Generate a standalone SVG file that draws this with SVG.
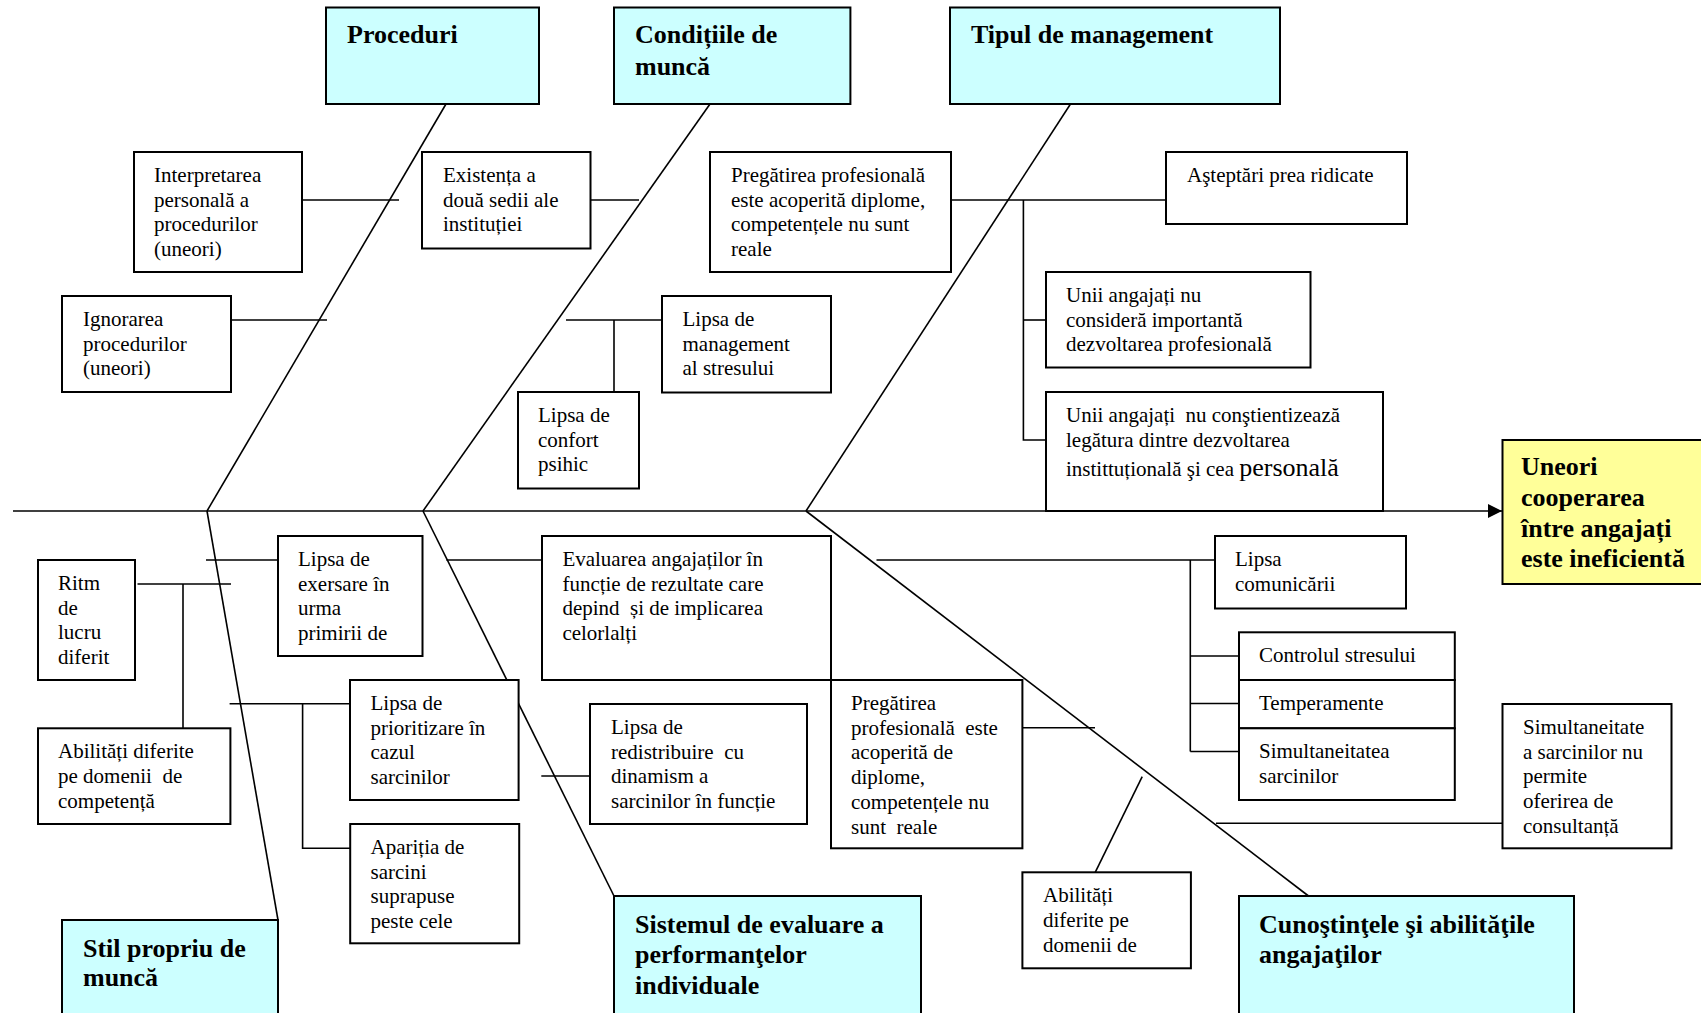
<svg xmlns="http://www.w3.org/2000/svg" width="1701" height="1013" viewBox="0 0 1701 1013">
<style>
  .bx { fill: #ffffff; stroke: #000; stroke-width: 2; }
  .cat { fill: #ccffff; stroke: #000; stroke-width: 2; }
  .eff { fill: #ffff99; stroke: #000; stroke-width: 2; }
  .ln { stroke: #000; stroke-width: 1.6; fill: none; }
  .t { font-family: 'Liberation Serif', 'Times New Roman', serif; font-size: 21px; fill: #000; }
  .h { font-family: 'Liberation Serif', 'Times New Roman', serif; font-size: 26px; font-weight: bold; fill: #000; }
</style>
<defs>
  <marker id="arr" viewBox="0 0 10 10" refX="10" refY="5" markerWidth="17" markerHeight="14" markerUnits="userSpaceOnUse" orient="auto">
    <path d="M0,0 L10,5 L0,10 Z" fill="#000"/>
  </marker>
</defs>
<rect width="1701" height="1013" fill="#ffffff"/>

<g id="connectors">
  <!-- spine -->
  <line class="ln" x1="13" y1="511" x2="1502" y2="511" stroke-width="2" marker-end="url(#arr)"/>
  <!-- top bones -->
  <line class="ln" x1="446" y1="104" x2="207" y2="511"/>
  <line class="ln" x1="710" y1="104" x2="423" y2="511"/>
  <line class="ln" x1="1070.5" y1="104" x2="806" y2="511"/>
  <!-- bottom bones -->
  <line class="ln" x1="207" y1="511" x2="278" y2="920"/>
  <line class="ln" x1="423" y1="511" x2="614" y2="896"/>
  <line class="ln" x1="806" y1="511" x2="1308.5" y2="896"/>
  <!-- Proceduri branches -->
  <line class="ln" x1="302" y1="200" x2="399" y2="200"/>
  <line class="ln" x1="231" y1="320" x2="327" y2="320"/>
  <!-- Conditii branches -->
  <line class="ln" x1="590.5" y1="200" x2="639" y2="200"/>
  <polyline class="ln" points="566,320 662,320"/>
  <line class="ln" x1="614" y1="320" x2="614" y2="392"/>
  <!-- Tipul branches -->
  <line class="ln" x1="951" y1="200" x2="1166" y2="200"/>
  <polyline class="ln" points="1023.4,200 1023.4,440 1046,440"/>
  <line class="ln" x1="1023.4" y1="320" x2="1046" y2="320"/>
  <!-- Stil branches -->
  <line class="ln" x1="137.5" y1="584" x2="231" y2="584"/>
  <line class="ln" x1="183" y1="584" x2="183" y2="728.3"/>
  <line class="ln" x1="206" y1="560" x2="278" y2="560"/>
  <line class="ln" x1="229.6" y1="703.7" x2="350" y2="703.7"/>
  <polyline class="ln" points="302.6,703.7 302.6,848.3 350.2,848.3"/>
  <!-- Sistemul branches -->
  <line class="ln" x1="446.4" y1="560" x2="542" y2="560"/>
  <line class="ln" x1="541.3" y1="776" x2="590" y2="776"/>
  <!-- Cunostinte branches -->
  <line class="ln" x1="1022.4" y1="727.7" x2="1095" y2="727.7"/>
  <line class="ln" x1="876.5" y1="560" x2="1215" y2="560"/>
  <line class="ln" x1="1190.3" y1="560" x2="1190.3" y2="751.5"/>
  <line class="ln" x1="1190.3" y1="656" x2="1239" y2="656"/>
  <line class="ln" x1="1190.3" y1="703.5" x2="1239" y2="703.5"/>
  <line class="ln" x1="1190.3" y1="751.5" x2="1239" y2="751.5"/>
  <line class="ln" x1="1216" y1="823.3" x2="1502.5" y2="823.3"/>
  <line class="ln" x1="1095.2" y1="872.3" x2="1142.2" y2="776.7"/>
</g>

<g id="cat-proceduri">
  <rect class="cat" x="326" y="7.5" width="213" height="96.5"/>
  <text class="h" x="347" y="43">Proceduri</text>
</g>
<g id="cat-conditii">
  <rect class="cat" x="614" y="7.5" width="236.4" height="96.5"/>
  <text class="h" x="635" y="43">Condițiile de</text>
  <text class="h" x="635" y="74.5">muncă</text>
</g>
<g id="cat-tipul">
  <rect class="cat" x="950" y="7.5" width="330" height="96.5"/>
  <text class="h" x="971" y="43">Tipul de management</text>
</g>
<g id="cat-stil">
  <rect class="cat" x="62" y="920" width="216" height="120"/>
  <text class="h" x="83" y="956.5">Stil propriu de</text>
  <text class="h" x="83" y="986">muncă</text>
</g>
<g id="cat-sistemul">
  <rect class="cat" x="614" y="896" width="307" height="140"/>
  <text class="h" x="635" y="932.5">Sistemul de evaluare a</text>
  <text class="h" x="635" y="963">performanţelor</text>
  <text class="h" x="635" y="993.5">individuale</text>
</g>
<g id="cat-cunostinte">
  <rect class="cat" x="1239" y="896" width="335" height="140"/>
  <text class="h" x="1259" y="932.5">Cunoştinţele şi abilităţile</text>
  <text class="h" x="1259" y="963">angajaţilor</text>
</g>
<g id="effect">
  <rect class="eff" x="1502.5" y="440" width="220" height="144"/>
  <text class="h" x="1521" y="475">Uneori</text>
  <text class="h" x="1521" y="506">cooperarea</text>
  <text class="h" x="1521" y="537">între angajați</text>
  <text class="h" x="1521" y="567">este ineficientă</text>
</g>

<g id="n-interpretarea">
  <rect class="bx" x="134" y="152" width="168" height="120"/>
  <text class="t" x="154" y="182">Interpretarea</text>
  <text class="t" x="154" y="206.7">personală a</text>
  <text class="t" x="154" y="231.4">procedurilor</text>
  <text class="t" x="154" y="256.1">(uneori)</text>
</g>
<g id="n-ignorarea">
  <rect class="bx" x="62" y="296" width="169" height="96"/>
  <text class="t" x="83" y="326">Ignorarea</text>
  <text class="t" x="83" y="350.7">procedurilor</text>
  <text class="t" x="83" y="375.4">(uneori)</text>
</g>
<g id="n-existenta">
  <rect class="bx" x="422" y="152" width="168.5" height="96.5"/>
  <text class="t" x="443" y="182">Existența a</text>
  <text class="t" x="443" y="206.7">două sedii ale</text>
  <text class="t" x="443" y="231.4">instituției</text>
</g>
<g id="n-management-stres">
  <rect class="bx" x="662" y="296" width="169" height="96.5"/>
  <text class="t" x="682.5" y="326">Lipsa de</text>
  <text class="t" x="682.5" y="350.7">management</text>
  <text class="t" x="682.5" y="375.4">al stresului</text>
</g>
<g id="n-confort">
  <rect class="bx" x="518" y="392" width="121" height="96.5"/>
  <text class="t" x="538" y="422">Lipsa de</text>
  <text class="t" x="538" y="446.7">confort</text>
  <text class="t" x="538" y="471.4">psihic</text>
</g>
<g id="n-pregatirea-sus">
  <rect class="bx" x="710" y="152" width="241" height="120"/>
  <text class="t" x="731" y="182">Pregătirea profesională</text>
  <text class="t" x="731" y="206.7">este acoperită diplome,</text>
  <text class="t" x="731" y="231.4">competențele nu sunt</text>
  <text class="t" x="731" y="256.1">reale</text>
</g>
<g id="n-asteptari">
  <rect class="bx" x="1166" y="152" width="241" height="72"/>
  <text class="t" x="1187" y="182">Aşteptări prea ridicate</text>
</g>
<g id="n-unii-considera">
  <rect class="bx" x="1046" y="272" width="264.5" height="95.5"/>
  <text class="t" x="1066" y="302">Unii angajați nu</text>
  <text class="t" x="1066" y="326.7">consideră importantă</text>
  <text class="t" x="1066" y="351.4">dezvoltarea profesională</text>
</g>
<g id="n-unii-constientizeaza">
  <rect class="bx" x="1046" y="392" width="337" height="119"/>
  <text class="t" x="1066" y="422" xml:space="preserve">Unii angajați  nu conştientizează</text>
  <text class="t" x="1066" y="446.7">legătura dintre dezvoltarea</text>
  <text class="t" x="1066" y="476">instittuțională şi cea <tspan font-size="26">personală</tspan></text>
</g>

<g id="n-ritm">
  <rect class="bx" x="38" y="560" width="97" height="120"/>
  <text class="t" x="58" y="590">Ritm</text>
  <text class="t" x="58" y="614.7">de</text>
  <text class="t" x="58" y="639.4">lucru</text>
  <text class="t" x="58" y="664.1">diferit</text>
</g>
<g id="n-abilitati-stil">
  <rect class="bx" x="38" y="728.3" width="192.4" height="95.7"/>
  <text class="t" x="58" y="758.3">Abilități diferite</text>
  <text class="t" x="58" y="783" xml:space="preserve">pe domenii  de</text>
  <text class="t" x="58" y="807.7">competență</text>
</g>
<g id="n-exersare">
  <rect class="bx" x="278" y="536" width="144.5" height="120"/>
  <text class="t" x="298" y="566">Lipsa de</text>
  <text class="t" x="298" y="590.7">exersare în</text>
  <text class="t" x="298" y="615.4">urma</text>
  <text class="t" x="298" y="640.1">primirii de</text>
</g>
<g id="n-prioritizare">
  <rect class="bx" x="350" y="680" width="168.6" height="120"/>
  <text class="t" x="370.5" y="710">Lipsa de</text>
  <text class="t" x="370.5" y="734.7">prioritizare în</text>
  <text class="t" x="370.5" y="759.4">cazul</text>
  <text class="t" x="370.5" y="784.1">sarcinilor</text>
</g>
<g id="n-aparitia">
  <rect class="bx" x="350.2" y="824" width="169" height="119.3"/>
  <text class="t" x="370.5" y="854">Apariția de</text>
  <text class="t" x="370.5" y="878.7">sarcini</text>
  <text class="t" x="370.5" y="903.4">suprapuse</text>
  <text class="t" x="370.5" y="928.1">peste cele</text>
</g>
<g id="n-evaluarea">
  <rect class="bx" x="542" y="536" width="289" height="144"/>
  <text class="t" x="562.4" y="566">Evaluarea angajaților în</text>
  <text class="t" x="562.4" y="590.7">funcție de rezultate care</text>
  <text class="t" x="562.4" y="615.4" xml:space="preserve">depind  și de implicarea</text>
  <text class="t" x="562.4" y="640.1">celorlalți</text>
</g>
<g id="n-redistribuire">
  <rect class="bx" x="590" y="704" width="217" height="120"/>
  <text class="t" x="611" y="734">Lipsa de</text>
  <text class="t" x="611" y="758.7" xml:space="preserve">redistribuire  cu</text>
  <text class="t" x="611" y="783.4">dinamism a</text>
  <text class="t" x="611" y="808.1">sarcinilor în funcție</text>
</g>
<g id="n-pregatirea-jos">
  <rect class="bx" x="831" y="680" width="191.4" height="168.3"/>
  <text class="t" x="851" y="710">Pregătirea</text>
  <text class="t" x="851" y="734.7" xml:space="preserve">profesională  este</text>
  <text class="t" x="851" y="759.4">acoperită de</text>
  <text class="t" x="851" y="784.1">diplome,</text>
  <text class="t" x="851" y="808.8">competențele nu</text>
  <text class="t" x="851" y="833.5" xml:space="preserve">sunt  reale</text>
</g>
<g id="n-comunicarii">
  <rect class="bx" x="1215" y="536" width="191" height="72.5"/>
  <text class="t" x="1235" y="566">Lipsa</text>
  <text class="t" x="1235" y="590.7">comunicării</text>
</g>
<g id="n-controlul">
  <rect class="bx" x="1239" y="632.3" width="215.8" height="47.7"/>
  <text class="t" x="1259" y="662">Controlul stresului</text>
</g>
<g id="n-temperamente">
  <rect class="bx" x="1239" y="680" width="215.8" height="48.3"/>
  <text class="t" x="1259" y="710">Temperamente</text>
</g>
<g id="n-simultaneitatea">
  <rect class="bx" x="1239" y="728.3" width="215.8" height="71.7"/>
  <text class="t" x="1259" y="758">Simultaneitatea</text>
  <text class="t" x="1259" y="782.7">sarcinilor</text>
</g>
<g id="n-simultaneitate-consultanta">
  <rect class="bx" x="1502.5" y="704" width="169" height="144.3"/>
  <text class="t" x="1523" y="734">Simultaneitate</text>
  <text class="t" x="1523" y="758.7">a sarcinilor nu</text>
  <text class="t" x="1523" y="783.4">permite</text>
  <text class="t" x="1523" y="808.1">oferirea de</text>
  <text class="t" x="1523" y="832.8">consultanță</text>
</g>
<g id="n-abilitati-cunostinte">
  <rect class="bx" x="1022.4" y="872.3" width="168.5" height="96"/>
  <text class="t" x="1043" y="902.3">Abilități</text>
  <text class="t" x="1043" y="927">diferite pe</text>
  <text class="t" x="1043" y="951.7">domenii de</text>
</g>
</svg>
